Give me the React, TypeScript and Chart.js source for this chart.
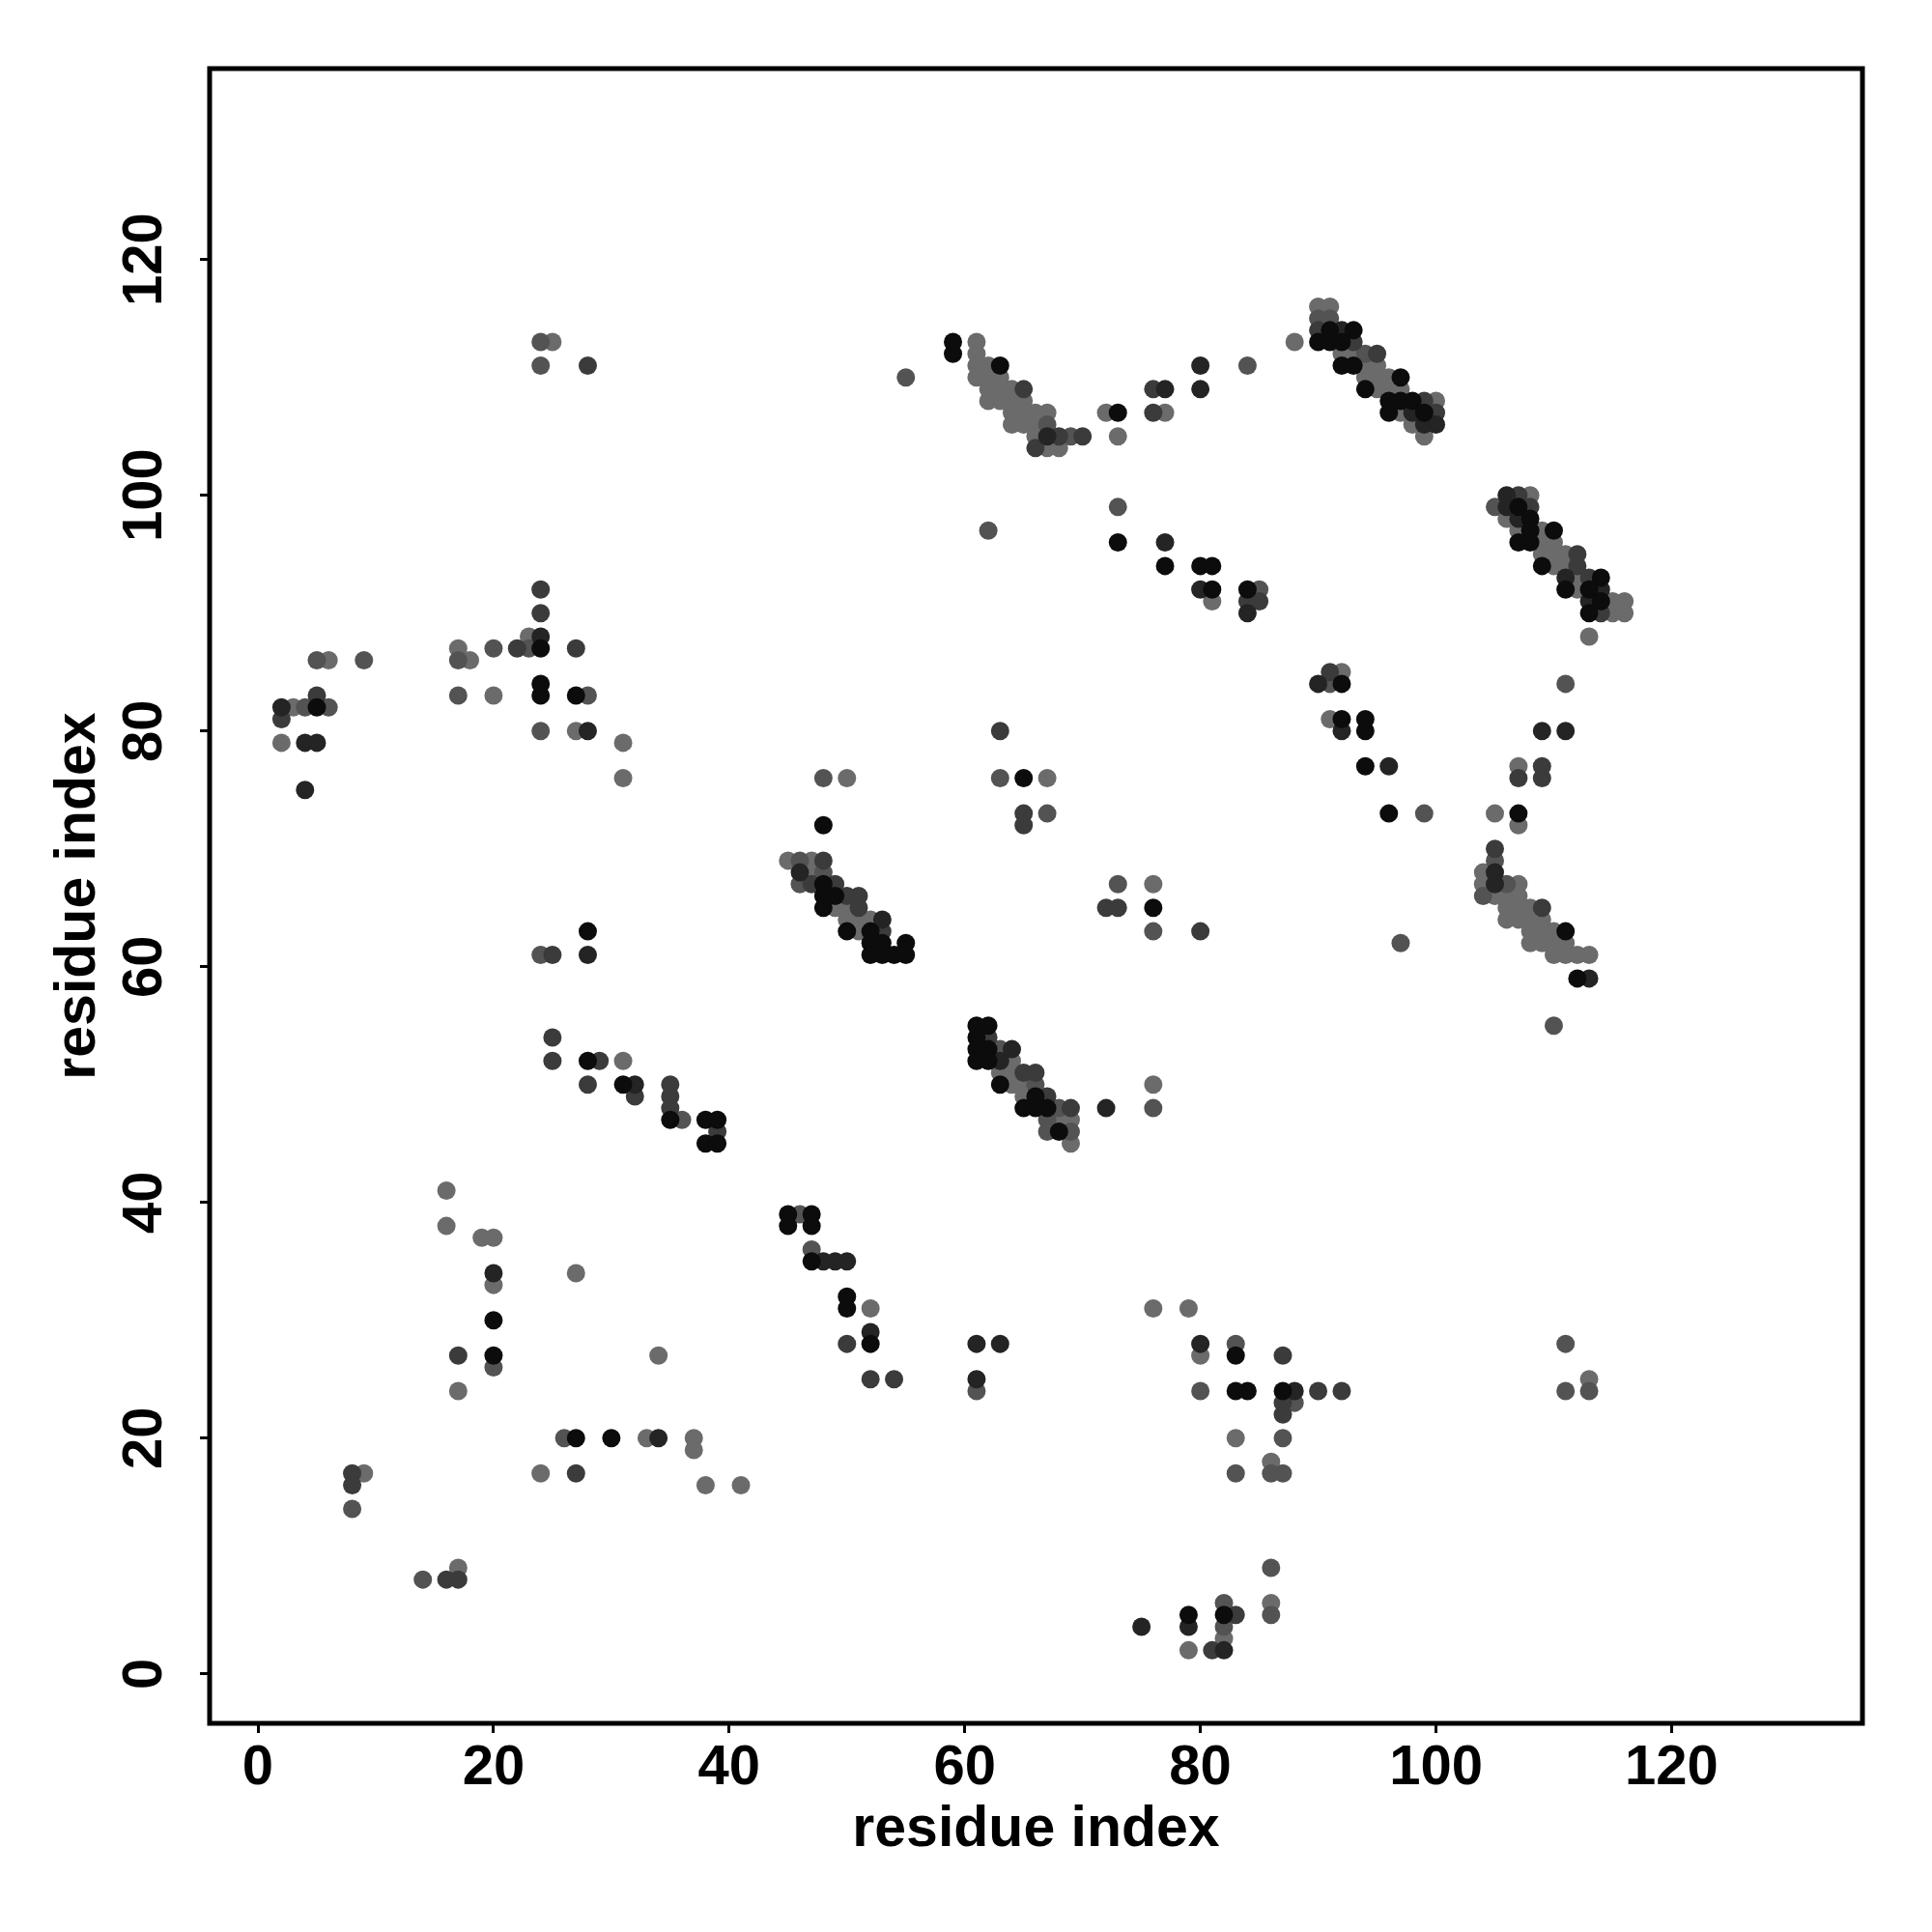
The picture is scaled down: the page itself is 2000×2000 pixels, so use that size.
import React, { useEffect, useRef } from "react";
import { Chart, registerables } from "chart.js";

Chart.register(...registerables);

type P = [number, number];

// contact points grouped by grey level (darkest first)
const level0: P[] = [
  [24, 84], [24, 83], [27, 83], [5, 82], [24, 87],
  [28, 63], [28, 52], [48, 72], [35, 47], [38, 47], [39, 47], [38, 45], [39, 45], [31, 50],
  [48, 67], [48, 66], [49, 66], [48, 65], [50, 63], [52, 63], [52, 62], [53, 62], [55, 62],
  [52, 61], [53, 61], [54, 61], [55, 61],
  [45, 39], [47, 39], [45, 38], [47, 38], [47, 35], [50, 32], [50, 31], [52, 28],
  [27, 20], [30, 20], [20, 30], [20, 27],
  [59, 113], [59, 112], [63, 111], [73, 107], [73, 96], [77, 94], [80, 94], [81, 94], [81, 92], [84, 92],
  [65, 76], [76, 65], [61, 55], [62, 55], [61, 54], [61, 53], [62, 53], [61, 52], [62, 52],
  [63, 50], [66, 49], [65, 48], [66, 48], [67, 48], [68, 46],
  [91, 114], [93, 114], [90, 113], [91, 113], [92, 113], [92, 111], [93, 111], [97, 110],
  [94, 109], [96, 108], [97, 108], [98, 108], [96, 107], [99, 107],
  [92, 84], [92, 81], [94, 81], [94, 80],
  [107, 99], [108, 98], [108, 97], [110, 97], [107, 96], [108, 96], [109, 94],
  [111, 92], [113, 92], [114, 91], [113, 90], [114, 93],
  [94, 77], [96, 73], [107, 73], [111, 63], [112, 59],
  [83, 27], [83, 24], [84, 24], [87, 24], [82, 5], [79, 5],
];

const level1: P[] = [
  [2, 82], [4, 79], [5, 79], [4, 75], [24, 88], [28, 80], [28, 61], [32, 50], [46, 68],
  [48, 35], [49, 35], [50, 35], [52, 29], [34, 20], [20, 34], [53, 64], [63, 52], [64, 53],
  [67, 105], [77, 109], [80, 111], [80, 109], [77, 96], [80, 92], [84, 90], [72, 48],
  [92, 114], [98, 107], [99, 106], [100, 106], [106, 100], [106, 99], [107, 98],
  [111, 93], [114, 92], [113, 91], [96, 77], [113, 59], [90, 84], [92, 80], [109, 80], [111, 80],
  [61, 28], [63, 28], [61, 25], [80, 28], [82, 2], [79, 4], [75, 4], [88, 24], [105, 68], [105, 67],
];

const level2: P[] = [
  [24, 92], [24, 90], [22, 87], [27, 87], [5, 83], [2, 81], [28, 111], [25, 61], [25, 54], [25, 52],
  [29, 52], [28, 50], [32, 49], [35, 50], [35, 49], [35, 48], [39, 46], [48, 69], [47, 67], [49, 67],
  [50, 66], [51, 66], [51, 65], [53, 63], [17, 27], [27, 17], [8, 17], [8, 16], [16, 8], [17, 8],
  [50, 28], [52, 25], [54, 25], [65, 109], [66, 104], [68, 105], [70, 105], [76, 109], [76, 107],
  [84, 91], [85, 91], [63, 80], [65, 73], [65, 72], [72, 65], [73, 65], [80, 63], [65, 51], [66, 51],
  [67, 49], [69, 48], [62, 54], [93, 113], [95, 112], [99, 108], [100, 107], [108, 99], [107, 100],
  [105, 70], [109, 65], [112, 95], [112, 94], [113, 93], [114, 90], [109, 77], [107, 76], [109, 76],
  [90, 114], [91, 85], [87, 27], [90, 24], [92, 24], [83, 5], [81, 2], [87, 22], [87, 23],
];

const level3: P[] = [
  [24, 113], [24, 111], [23, 87], [20, 87], [17, 86], [17, 83], [28, 83], [24, 80], [5, 86], [9, 86],
  [4, 82], [6, 82], [55, 110], [24, 61], [36, 47], [46, 69], [48, 68], [46, 67], [48, 76], [46, 39],
  [47, 36], [20, 26], [26, 20], [8, 14], [14, 8], [67, 106], [69, 105], [73, 99], [62, 97], [84, 111],
  [85, 92], [63, 76], [67, 73], [73, 67], [76, 63], [63, 53], [66, 50], [68, 48], [67, 47], [67, 46],
  [69, 46], [76, 48], [90, 115], [91, 115], [94, 112], [105, 99], [91, 84], [111, 84], [99, 73],
  [105, 69], [104, 66], [106, 67], [97, 62], [110, 55], [61, 24], [83, 28], [80, 24], [83, 17],
  [86, 17], [87, 20], [86, 9], [86, 5], [82, 6], [82, 4], [111, 28], [111, 24], [113, 24], [88, 23],
  [87, 17],
];

const level4: P[] = [
  [25, 113], [23, 88], [17, 87], [18, 86], [6, 86], [20, 83], [27, 80], [3, 82], [2, 79], [31, 79],
  [31, 76], [61, 113], [61, 112], [61, 111], [61, 110], [62, 111], [62, 110], [62, 109], [62, 108],
  [63, 110], [63, 109], [63, 108], [64, 109], [64, 108], [64, 107], [64, 106], [65, 108], [65, 107],
  [65, 106], [66, 107], [66, 106], [66, 105], [67, 107], [67, 104], [68, 104], [72, 107], [77, 107],
  [73, 105], [81, 91], [88, 113], [90, 116], [91, 116], [92, 112], [93, 112], [94, 111], [94, 110],
  [95, 110], [95, 109], [96, 109], [97, 109], [97, 107], [98, 106], [99, 105], [100, 108], [95, 111],
  [96, 110], [108, 100], [106, 98], [107, 97], [109, 97], [109, 96], [110, 96], [109, 95], [110, 95],
  [110, 94], [111, 94], [112, 93], [112, 92], [115, 91], [116, 91], [115, 90], [116, 90], [113, 88],
  [111, 95], [92, 85], [91, 81], [107, 77], [105, 73], [107, 72], [104, 68], [104, 67], [105, 66],
  [106, 66], [107, 66], [107, 67], [106, 65], [107, 65], [108, 65], [106, 64], [107, 64], [108, 64],
  [109, 64], [108, 63], [109, 63], [110, 63], [108, 62], [109, 62], [110, 62], [111, 62], [110, 61],
  [111, 61], [112, 61], [113, 61], [45, 69], [47, 69], [47, 68], [49, 65], [50, 65], [50, 64],
  [51, 64], [52, 64], [51, 63], [50, 76], [31, 52], [67, 76], [76, 67], [76, 50], [63, 51], [64, 51],
  [64, 52], [64, 50], [65, 50], [65, 49], [68, 47], [69, 47], [69, 45], [16, 41], [16, 38], [19, 37],
  [20, 37], [20, 33], [27, 34], [17, 24], [24, 17], [9, 17], [17, 9], [34, 27], [33, 20], [37, 20],
  [37, 19], [38, 16], [41, 16], [52, 31], [76, 31], [79, 31], [80, 27], [83, 20], [86, 18], [86, 6],
  [82, 3], [79, 2], [113, 25],
];

const levelColors = ["#0c0c0c", "#242424", "#3b3b3b", "#535353", "#6b6b6b"];
const tickValues = [0, 20, 40, 60, 80, 100, 120];
const xTitle = "residue index";
const yTitle = "residue index";

const FONT = "'Liberation Sans', Arial, Helvetica, sans-serif";

const boxPlugin = {
  id: "boxFrame",
  afterDraw(chart: any) {
    const { ctx, chartArea } = chart;
    ctx.save();
    ctx.strokeStyle = "#000";
    ctx.lineWidth = 5;
    ctx.strokeRect(chartArea.left, chartArea.top, chartArea.right - chartArea.left, chartArea.bottom - chartArea.top);
    ctx.restore();
  },
};

export default function App() {
  const ref = useRef<HTMLCanvasElement | null>(null);

  useEffect(() => {
    if (!ref.current) return;
    const levels = [level0, level1, level2, level3, level4];
    const datasets = levels.map((pts, i) => ({
      data: pts.map(([x, y]) => ({ x, y })),
      backgroundColor: levelColors[i],
      borderWidth: 0,
      pointRadius: 9.5,
      pointHoverRadius: 9.5,
    }));
    const tickFont = { family: FONT, weight: "bold" as const, size: 58 };
    const titleFont = { family: FONT, weight: "bold" as const, size: 59 };
    const chart = new Chart(ref.current, {
      type: "scatter",
      data: { datasets },
      options: {
        animation: false,
        responsive: false,
        devicePixelRatio: 1,
        layout: { padding: { left: 0, top: 71, right: 72, bottom: 0 } },
        plugins: { legend: { display: false }, tooltip: { enabled: false } },
        scales: {
          x: {
            type: "linear",
            min: -4.1,
            max: 136.2,
            afterBuildTicks: (s: any) => {
              s.ticks = tickValues.map((v) => ({ value: v }));
            },
            afterFit: (s: any) => {
              s.height = 216;
            },
            grid: { drawOnChartArea: false, drawTicks: true, tickLength: 10, tickWidth: 3, tickColor: "#000", color: "#000" },
            border: { display: false },
            ticks: { color: "#000", font: tickFont, padding: 2, minRotation: 0, maxRotation: 0, autoSkip: false },
            title: { display: true, text: xTitle, color: "#000", font: titleFont, padding: { top: 0, bottom: 70 } },
          },
          y: {
            type: "linear",
            min: -4.2,
            max: 136.2,
            afterBuildTicks: (s: any) => {
              s.ticks = tickValues.map((v) => ({ value: v }));
            },
            afterFit: (s: any) => {
              s.width = 217;
            },
            grid: { drawOnChartArea: false, drawTicks: true, tickLength: 10, tickWidth: 3, tickColor: "#000", color: "#000" },
            border: { display: false },
            ticks: { color: "#000", font: tickFont, padding: 8, minRotation: 90, maxRotation: 90, crossAlign: "center", autoSkip: false },
            title: { display: true, text: yTitle, color: "#000", font: titleFont, padding: { top: 46, bottom: 0 } },
          },
        },
      },
      plugins: [boxPlugin],
    } as any);
    return () => chart.destroy();
  }, []);

  return (
    <div style={{ position: "absolute", left: 0, top: 0, width: 2000, height: 2000, background: "#fff" }}>
      <canvas ref={ref} width={2000} height={2000} style={{ width: 2000, height: 2000, display: "block" }} />
    </div>
  );
}
